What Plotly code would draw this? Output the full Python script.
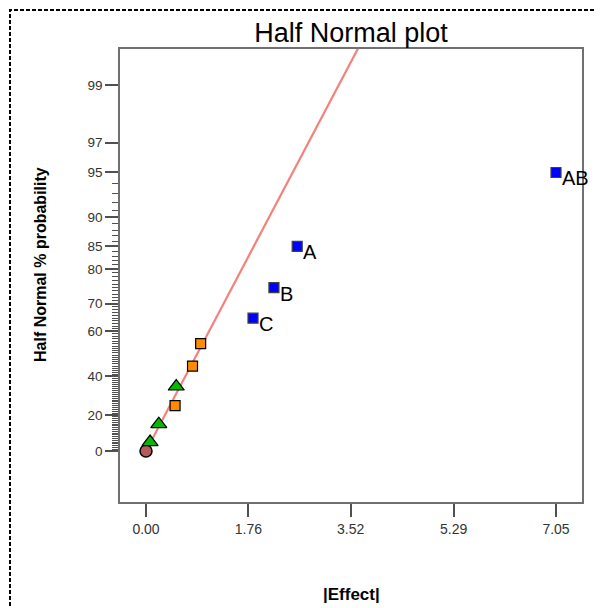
import plotly.graph_objects as go
from statistics import NormalDist

# ---------------- data ----------------
circle_effect = [0.0]
circle_prob = [0.0]

triangle_effect = [0.07, 0.22, 0.52]
triangle_prob = [5, 15, 35]

orange_effect = [0.50, 0.80, 0.94]
orange_prob = [25, 45, 55]

term_labels = ["C", "B", "A", "AB"]
term_effect = [1.84, 2.20, 2.60, 7.05]
term_prob = [65, 75, 85, 95]

y_tick_probs = [0, 20, 40, 60, 70, 80, 85, 90, 95, 97, 99]
x_tick_vals = [0.00, 1.76, 3.52, 5.29, 7.05]
x_tick_text = ["0.00", "1.76", "3.52", "5.29", "7.05"]

# ---------------- half-normal probability scale ----------------
nd = NormalDist()


def hn(p):
    """Half-normal % probability -> normal score."""
    return nd.inv_cdf(0.5 + p / 200.0)


def hn_list(ps):
    return [hn(p) for p in ps]


# fitted line through origin using the small (error) effects
fit_x = circle_effect + triangle_effect + orange_effect
fit_z = hn_list(circle_prob + triangle_prob + orange_prob)
slope = sum(a * b for a, b in zip(fit_x, fit_z)) / sum(a * a for a in fit_x)
line_x = [-0.05, 4.2]
line_z = [slope * v for v in line_x]

FONT = "Liberation Sans, Arial, sans-serif"

# figure geometry (page has an 8px body margin)
W, H = 595, 600
ML, MR, MT, MB = 112, 21, 41, 106
PW, PH = W - ML - MR, H - MT - MB


def px_x(px):
    return (px - 8 - ML) / PW


def px_y(py):
    return (H - MB - (py - 8)) / PH


fig = go.Figure()

fig.add_trace(go.Scatter(
    x=line_x, y=line_z, mode="lines",
    line=dict(color="#f4827c", width=2.2), hoverinfo="skip", showlegend=False))

fig.add_trace(go.Scatter(
    x=circle_effect, y=hn_list(circle_prob), mode="markers",
    marker=dict(symbol="circle", size=12, color="#b35c5c",
                line=dict(color="#000000", width=1.5)), showlegend=False))

fig.add_trace(go.Scatter(
    x=orange_effect, y=hn_list(orange_prob), mode="markers",
    marker=dict(symbol="square", size=10, color="#ff8c00",
                line=dict(color="#000000", width=1.2)), showlegend=False))

fig.add_trace(go.Scatter(
    x=triangle_effect, y=hn_list(triangle_prob), mode="markers",
    marker=dict(symbol="triangle-up", size=14, color="#00bb00",
                line=dict(color="#000000", width=1.2)), showlegend=False))

fig.add_trace(go.Scatter(
    x=term_effect, y=hn_list(term_prob), mode="markers",
    marker=dict(symbol="square", size=10, color="#0000ff",
                line=dict(color="#404040", width=1.2)),
    cliponaxis=False, showlegend=False))

annotations = []
for lab, ex, pr in zip(term_labels, term_effect, term_prob):
    annotations.append(dict(
        x=ex, y=hn(pr), xref="x", yref="y", text=lab, showarrow=False,
        xanchor="left", yanchor="middle", xshift=4, yshift=-6,
        font=dict(family=FONT, size=20, color="#000000")))

annotations.append(dict(
    x=px_x(40), y=px_y(265), xref="paper", yref="paper",
    text="<b>Half Normal % probability</b>",
    textangle=-90, showarrow=False, xanchor="center", yanchor="middle",
    font=dict(family=FONT, size=16, color="#000000")))
annotations.append(dict(
    x=0.5, y=px_y(594), xref="paper", yref="paper", text="<b>|Effect|</b>",
    showarrow=False, xanchor="center", yanchor="middle",
    font=dict(family=FONT, size=17, color="#000000")))

minor_vals = [hn(p) for p in range(1, 95) if p not in y_tick_probs]

fig.update_layout(
    width=W, height=H,
    margin=dict(l=ML, r=MR, t=MT, b=MB),
    paper_bgcolor="white", plot_bgcolor="white",
    title=dict(text="Half Normal plot", x=0.5, xref="paper", xanchor="center",
               y=1 - (33 - 8) / H, yref="container", yanchor="middle",
               font=dict(family=FONT, size=27, color="#000000")),
    annotations=annotations,
    shapes=[dict(type="rect", xref="paper", yref="paper",
                 x0=px_x(10), x1=px_x(640), y0=px_y(660), y1=px_y(10),
                 line=dict(color="#000000", width=2, dash="4px,2px"),
                 fillcolor="rgba(0,0,0,0)", layer="above")],
    xaxis=dict(range=[-0.447, 7.497], showgrid=False, zeroline=False,
               tickmode="array", tickvals=x_tick_vals, ticktext=x_tick_text,
               ticks="outside", ticklen=13, tickcolor="#505050", tickwidth=1.5,
               showline=True, linecolor="#707070", linewidth=1.5, mirror=True,
               tickfont=dict(family=FONT, size=14, color="#333333")),
    yaxis=dict(range=[-0.359, 2.829], showgrid=False, zeroline=False,
               tickmode="array", tickvals=hn_list(y_tick_probs),
               ticktext=[str(p) for p in y_tick_probs],
               ticks="outside", ticklen=13, tickcolor="#505050", tickwidth=1.5,
               showline=True, linecolor="#707070", linewidth=1.5, mirror=True,
               minor=dict(tickmode="array", tickvals=minor_vals, ticks="outside",
                          ticklen=6, tickcolor="#505050", tickwidth=1),
               tickfont=dict(family=FONT, size=13.5, color="#333333")),
)

fig.write_html("out.html")
